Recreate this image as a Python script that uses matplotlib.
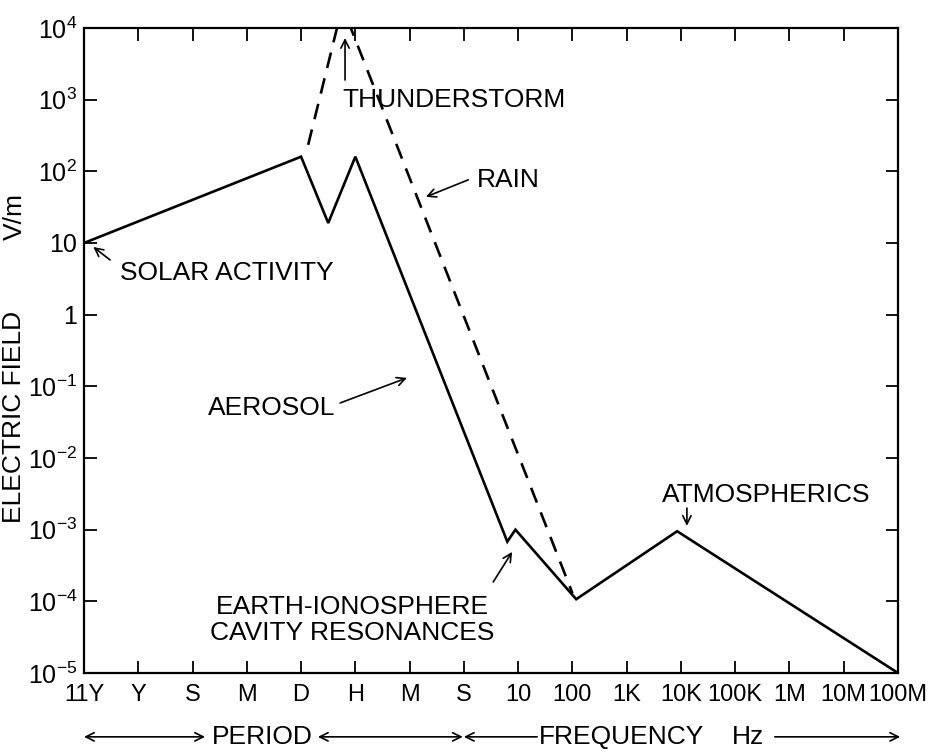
import matplotlib
matplotlib.use("Agg")
import matplotlib.pyplot as plt
import matplotlib.transforms as mtransforms

plt.rcParams["font.family"] = ["Liberation Sans", "DejaVu Sans"]
plt.rcParams["mathtext.default"] = "regular"

# categories along the bottom (period then frequency)
X_LABELS = ["11Y", "Y", "S", "M", "D", "H", "M", "S",
            "10", "100", "1K", "10K", "100K", "1M", "10M", "100M"]

# solid curve (general spectrum)
solid_x = [0, 4, 4.5, 5, 7.8, 7.95, 9.07, 10.93, 15]
solid_y = [10, 160, 19, 160, 6.8e-4, 1.0e-3, 1.07e-4, 9.5e-4, 1e-5]

# dashed curve (thunderstorm / rain)
dash_x = [4.13, 4.76, 9.0]
dash_y = [234, 2.0e4, 1.3e-4]

Y_TICKS = [1e-5, 1e-4, 1e-3, 1e-2, 1e-1, 1, 10, 1e2, 1e3, 1e4]
Y_TICK_LABELS = ["$10^{-5}$", "$10^{-4}$", "$10^{-3}$", "$10^{-2}$", "$10^{-1}$",
                 "1", "10", "$10^{2}$", "$10^{3}$", "$10^{4}$"]

FS = 19

fig = plt.figure(figsize=(9.41, 7.56), dpi=100)
ax = fig.add_axes([0.0893, 0.1098, 0.8650, 0.8532])

ax.plot(solid_x, solid_y, color="black", lw=1.9, solid_joinstyle="miter")
ax.plot(dash_x, dash_y, color="black", lw=1.9, linestyle=(0, (6, 4)))

ax.set_yscale("log")
ax.set_xlim(0, 15)
ax.set_ylim(1e-5, 1e4)

ax.set_xticks(range(len(X_LABELS)))
ax.set_xticklabels(X_LABELS)
ax.set_yticks(Y_TICKS)
ax.set_yticklabels(Y_TICK_LABELS)
ax.minorticks_off()
ax.tick_params(axis="both", direction="in", length=9, width=1.3,
               top=True, right=True)
ax.tick_params(axis="x", pad=8, labelsize=17)
ax.tick_params(axis="y", pad=5, labelsize=18)
for sp in ax.spines.values():
    sp.set_linewidth(1.6)

# axis titles
fig.text(14 / 941, 1 - 417 / 756, "ELECTRIC FIELD", rotation=90,
         ha="center", va="center", fontsize=FS)
fig.text(15 / 941, 1 - 217 / 756, "V/m", rotation=90,
         ha="center", va="center", fontsize=FS)

arrow = dict(arrowstyle="->", color="black", lw=1.2, mutation_scale=15,
             shrinkA=0, shrinkB=0)

ax.annotate("", xy=(0.17, 8.8), xytext=(0.48, 5.8), arrowprops=arrow)
ax.text(0.66, 3.8, "SOLAR ACTIVITY", ha="left", va="center", fontsize=FS)

ax.annotate("", xy=(4.81, 7250), xytext=(4.81, 1880), arrowprops=arrow,
            annotation_clip=False)
ax.text(4.77, 990, "THUNDERSTORM", ha="left", va="center", fontsize=FS)

ax.annotate("", xy=(6.30, 44), xytext=(7.08, 76), arrowprops=arrow)
ax.text(7.24, 76, "RAIN", ha="left", va="center", fontsize=FS)

ax.annotate("", xy=(5.95, 0.131), xytext=(4.72, 0.0586), arrowprops=arrow)
ax.text(2.28, 0.05, "AEROSOL", ha="left", va="center", fontsize=FS)

ax.annotate("", xy=(7.89, 4.9e-4), xytext=(7.54, 1.86e-4), arrowprops=arrow)
ax.text(4.94, 5.5e-5, "EARTH-IONOSPHERE\nCAVITY RESONANCES", ha="center",
        va="center", fontsize=FS, linespacing=1.1)

ax.annotate("", xy=(11.11, 1.13e-3), xytext=(11.11, 2.0e-3), arrowprops=arrow)
ax.text(12.57, 3.05e-3, "ATMOSPHERICS", ha="center", va="center", fontsize=FS)

# period / frequency row under the tick labels
trans = mtransforms.blended_transform_factory(ax.transData, ax.transAxes)
row_y = -0.099
row_arrow = dict(color="black", lw=1.2, mutation_scale=15, shrinkA=0, shrinkB=0)
ax.annotate("", xy=(2.23, row_y), xytext=(0, row_y), xycoords=trans,
            textcoords=trans, arrowprops=dict(arrowstyle="<->", **row_arrow),
            annotation_clip=False)
ax.text(3.28, row_y, "PERIOD", transform=trans, ha="center", va="center",
        fontsize=FS)
ax.annotate("", xy=(6.98, row_y), xytext=(4.31, row_y), xycoords=trans,
            textcoords=trans, arrowprops=dict(arrowstyle="<->", **row_arrow),
            annotation_clip=False)
ax.annotate("", xy=(7.0, row_y), xytext=(8.35, row_y), xycoords=trans,
            textcoords=trans, arrowprops=dict(arrowstyle="->", **row_arrow),
            annotation_clip=False)
ax.text(9.9, row_y, "FREQUENCY", transform=trans, ha="center", va="center",
        fontsize=FS)
ax.text(12.23, row_y, "Hz", transform=trans, ha="center", va="center",
        fontsize=FS)
ax.annotate("", xy=(15.04, row_y), xytext=(12.73, row_y), xycoords=trans,
            textcoords=trans, arrowprops=dict(arrowstyle="->", **row_arrow),
            annotation_clip=False)

fig.savefig("out.png", dpi=100)
